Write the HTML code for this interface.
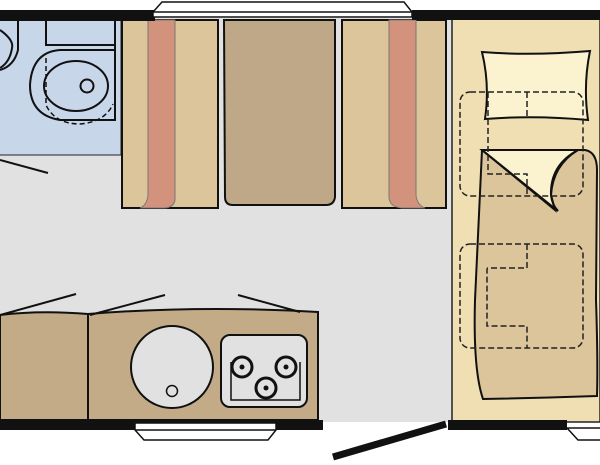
<!DOCTYPE html>
<html><head><style>html,body{margin:0;padding:0;background:#fff}svg{display:block}</style></head>
<body>
<svg width="600" height="465" viewBox="0 0 600 465" xmlns="http://www.w3.org/2000/svg">
<rect width="600" height="465" fill="#fff"/>
<!-- floor -->
<rect x="0" y="18" width="455" height="404" fill="#e1e1e1"/>
<!-- bed area -->
<rect x="452" y="18" width="148" height="404" fill="#efdfb3" stroke="#222" stroke-width="1.5"/>
<!-- bathroom -->
<rect x="0" y="18" width="121" height="137" fill="#c8d6ea"/>
<line x1="0" y1="155" x2="121" y2="155" stroke="#222" stroke-width="1"/>
<line x1="121" y1="18" x2="121" y2="155" stroke="#222" stroke-width="1"/>
<path d="M0,30 Q14,40 12,48 Q10,62 0,68" fill="none" stroke="#111" stroke-width="2"/>
<path d="M18,20 L18,50 Q14,66 0,70" fill="none" stroke="#111" stroke-width="2"/>
<path d="M46,20 L46,45 L115,45" fill="none" stroke="#111" stroke-width="2"/>
<path d="M115,20 L115,120 L60,120 Q30,115 30,85 Q32,52 60,50 L115,50" fill="none" stroke="#111" stroke-width="2"/>
<ellipse cx="76" cy="86" rx="32" ry="25" fill="none" stroke="#111" stroke-width="2"/>
<circle cx="87" cy="86" r="6.5" fill="none" stroke="#111" stroke-width="2"/>
<path d="M46,58 L46,105 Q55,124 80,124 Q105,122 113,104" fill="none" stroke="#111" stroke-width="1.5" stroke-dasharray="5,3"/>
<line x1="0" y1="160" x2="48" y2="173" stroke="#111" stroke-width="2"/>
<!-- left bench -->
<rect x="122" y="20" width="96" height="188" fill="#dcc59a" stroke="#111" stroke-width="2"/>
<path d="M148,20 L175,20 L175,200 Q174,207 165,208 L140,208 Q147,205 148,195 Z" fill="#d3927c" stroke="#777" stroke-width="1"/>
<!-- table -->
<path d="M224,20 L335,20 L335,197 Q334,205 326,205 L233,205 Q225,205 225,197 Z" fill="#bfa887" stroke="#111" stroke-width="2"/>
<!-- right bench -->
<rect x="342" y="20" width="104" height="188" fill="#dcc59a" stroke="#111" stroke-width="2"/>
<path d="M389,20 L416,20 L416,195 Q417,205 425,208 L402,208 Q390,207 389,198 Z" fill="#d3927c" stroke="#777" stroke-width="1"/>
<!-- top wall -->
<rect x="0" y="10" width="155" height="11" fill="#111"/>
<rect x="412" y="10" width="188" height="10" fill="#111"/>
<path d="M153,17 L153,12 L162,2 L404,2 L412,12 L412,17 Z" fill="#fff" stroke="#111" stroke-width="1.5"/>
<line x1="153" y1="12" x2="412" y2="12" stroke="#111" stroke-width="1.5"/>
<!-- pillow -->
<path d="M482,52 Q530,56 590,51 Q583,85 588,120 Q535,115 485,119 Q490,85 482,52 Z" fill="#fbf2cf" stroke="#111" stroke-width="2"/>
<!-- blanket -->
<path d="M482,150 L585,150 Q597,152 597,170 L596,300 Q598,360 597,396 Q540,398 483,399 Q473,370 475,300 Z" fill="#dcc59a" stroke="#111" stroke-width="2"/>
<path d="M482,150 L578,150 Q553,165 551,195 L555,210 Z" fill="#fbf2cf" stroke="#111" stroke-width="2"/>
<line x1="482" y1="150" x2="558" y2="211" stroke="#111" stroke-width="2"/>
<path d="M578,150 Q550,165 551,195 Q552,205 558,211" fill="none" stroke="#111" stroke-width="2"/>
<!-- dashed -->
<g fill="none" stroke="#222" stroke-width="1.5" stroke-dasharray="6,3">
<rect x="460" y="92" width="123" height="104" rx="10"/>
<path d="M488,92 L488,174 L527,174 L527,196"/>
<line x1="527" y1="92" x2="527" y2="117"/>
<rect x="460" y="244" width="123" height="104" rx="10"/>
<path d="M527,244 L527,268 L488,268 Q487,268 487,270 L487,326 L527,326 L527,348"/>
</g>
<!-- kitchen -->
<path d="M0,315 Q40,310 88,314 L88,420 L0,420 Z" fill="#c4ab88" stroke="#111" stroke-width="2"/>
<path d="M88,314 Q200,305 318,312 L318,420 L88,420 Z" fill="#c4ab88" stroke="#111" stroke-width="2"/>
<line x1="0" y1="315" x2="76" y2="294" stroke="#111" stroke-width="2"/>
<line x1="90" y1="315" x2="165" y2="295" stroke="#111" stroke-width="2"/>
<line x1="238" y1="295" x2="300" y2="312" stroke="#111" stroke-width="2"/>
<circle cx="172" cy="367" r="41" fill="#e1e1e1" stroke="#111" stroke-width="2"/>
<circle cx="172" cy="391" r="5.5" fill="none" stroke="#111" stroke-width="1.5"/>
<rect x="221" y="335" width="86" height="72" rx="9" fill="#e1e1e1" stroke="#111" stroke-width="2"/>
<polyline points="231,362 231,400 300,400 300,362" fill="none" stroke="#111" stroke-width="1.5"/>
<g fill="#e1e1e1" stroke="#111" stroke-width="3">
<circle cx="242" cy="367" r="10"/><circle cx="286" cy="367" r="10"/><circle cx="266" cy="388" r="10"/>
</g>
<g fill="#111"><circle cx="242" cy="367" r="2.5"/><circle cx="286" cy="367" r="2.5"/><circle cx="266" cy="388" r="2.5"/></g>
<!-- bottom wall -->
<rect x="0" y="420" width="323" height="10" fill="#111"/>
<rect x="448" y="420" width="119" height="10" fill="#111"/>
<path d="M135,423 L276,423 L276,430 L268,440 L144,440 L135,430 Z" fill="#fff" stroke="#111" stroke-width="1.5"/>
<line x1="135" y1="430" x2="276" y2="430" stroke="#111" stroke-width="1.5"/>
<path d="M567,428 L600,428 M567,428 L578,440 L600,440" fill="#fff" stroke="#111" stroke-width="1.5"/>
<line x1="333" y1="457" x2="446" y2="424" stroke="#111" stroke-width="7"/>
</svg>
</body></html>
